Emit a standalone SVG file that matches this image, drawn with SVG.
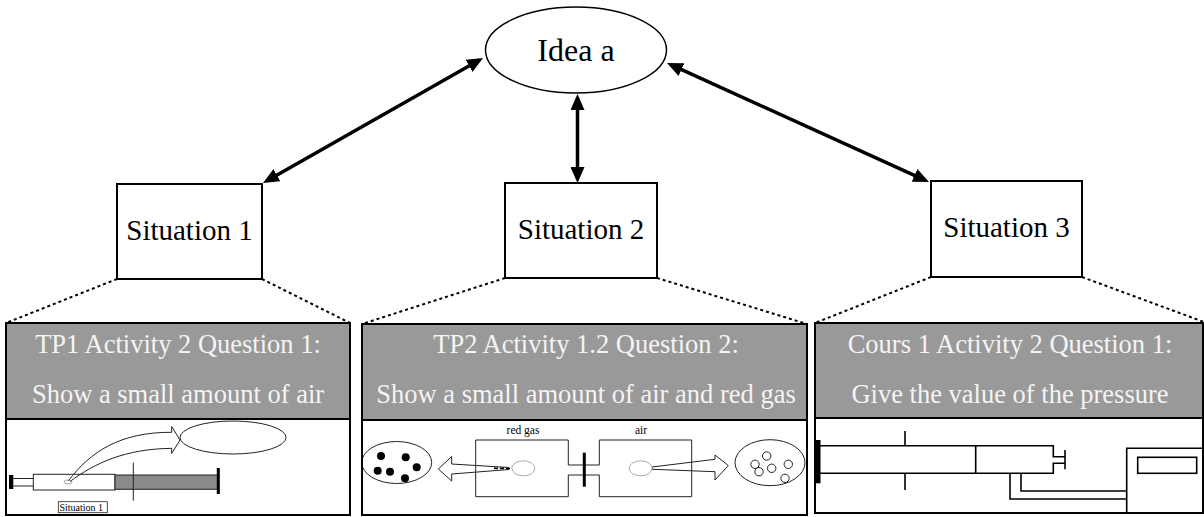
<svg xmlns="http://www.w3.org/2000/svg" width="1204" height="517" viewBox="0 0 1204 517">
<style>
.txt{font-family:"Liberation Serif","Times New Roman",serif;fill:#000}
.lbl{font-size:29px;text-anchor:middle}
.hdr{fill:#999;stroke:none}
.htxt{font-family:"Liberation Serif","Times New Roman",serif;font-size:26.5px;fill:#f4f4f4;text-anchor:middle}
.box{fill:#fff;stroke:#000;stroke-width:2}
.frame{fill:none;stroke:#000;stroke-width:2}
.conn{stroke:#000;stroke-width:3.5;fill:none;marker-start:url(#ah);marker-end:url(#ah)}
.dot{stroke:#000;stroke-width:2;stroke-dasharray:3 3;fill:none}
.thin{fill:none;stroke:#222;stroke-width:1}
.med{fill:none;stroke:#000;stroke-width:1.6}
.gry{fill:none;stroke:#aaa;stroke-width:1}
</style>
<defs>
<marker id="ah" viewBox="0 0 16 14" refX="12" refY="7" markerWidth="16" markerHeight="14" markerUnits="userSpaceOnUse" orient="auto-start-reverse">
<path d="M0,0 L16,7 L0,14 z" fill="#000"/>
</marker>
</defs>

<g id="connectors">
<line class="conn" x1="479.5" y1="60" x2="266.5" y2="181"/>
<line class="conn" x1="577.5" y1="98" x2="577.5" y2="179"/>
<line class="conn" x1="670.6" y1="64.7" x2="925.4" y2="180.3"/>
<line class="dot" x1="117" y1="279" x2="6" y2="323"/>
<line class="dot" x1="262" y1="279" x2="350" y2="323"/>
<line class="dot" x1="505" y1="278" x2="362" y2="324"/>
<line class="dot" x1="657" y1="278" x2="807" y2="324"/>
<line class="dot" x1="931" y1="277" x2="815" y2="323"/>
<line class="dot" x1="1082" y1="277" x2="1204" y2="322"/>
</g>

<g id="idea">
<ellipse cx="576" cy="50" rx="90.5" ry="43" fill="#fff" stroke="#000" stroke-width="1.5"/>
<text class="txt" x="576" y="61" font-size="32" text-anchor="middle">Idea a</text>
</g>

<g id="situation1">
<rect class="box" x="117" y="184" width="145" height="95"/>
<text class="txt lbl" x="189.5" y="240">Situation 1</text>
</g>
<g id="situation2">
<rect class="box" x="505" y="183" width="152" height="95"/>
<text class="txt lbl" x="581" y="239">Situation 2</text>
</g>
<g id="situation3">
<rect class="box" x="931" y="181" width="151" height="96"/>
<text class="txt lbl" x="1006.5" y="237">Situation 3</text>
</g>

<g id="panel1">
<rect class="hdr" x="6" y="323" width="344" height="96"/>
<rect x="6" y="419" width="344" height="96" fill="#fff"/>
<text class="htxt" x="178" y="353">TP1 Activity 2 Question 1:</text>
<text class="htxt" x="178" y="403">Show a small amount of air</text>
<ellipse class="thin" cx="233" cy="437.5" rx="53" ry="16.5"/>
<path class="thin" d="M171.7,432.3 L171.7,426.5 L180,440 L171.7,453.5 L171.7,448.3"/>
<path class="thin" d="M171.7,432.3 C120,432 90,452 68.3,481"/>
<path class="thin" d="M171.7,448.3 C125,449 95,463 70,481.5"/>
<ellipse cx="68" cy="482" rx="4" ry="2" fill="none" stroke="#888" stroke-width="0.8"/>
<rect x="9" y="475" width="4.3" height="14" fill="#000"/>
<path class="thin" d="M13.3,478.5 H33.3 M13.3,486 H33.3"/>
<rect x="33.3" y="474.3" width="81.7" height="15.7" fill="none" stroke="#222" stroke-width="1"/>
<rect x="115" y="475" width="103.3" height="14.3" fill="#8a8a8a" stroke="#222" stroke-width="1"/>
<line class="thin" x1="133.3" y1="462.7" x2="133.3" y2="500.7"/>
<line x1="218.3" y1="468" x2="218.3" y2="494" stroke="#000" stroke-width="3"/>
<rect x="58.3" y="501.7" width="49" height="11" fill="#fff" stroke="#222" stroke-width="0.8"/>
<text class="txt" x="59.5" y="511" font-size="10">Situation 1</text>
<rect class="frame" x="6" y="323" width="344" height="192"/>
<line class="frame" x1="6" y1="419" x2="350" y2="419"/>
</g>

<g id="panel2">
<rect class="hdr" x="362" y="324" width="445" height="96"/>
<rect x="362" y="420" width="445" height="95" fill="#fff"/>
<text class="htxt" x="586" y="353">TP2 Activity 1.2 Question 2:</text>
<text class="htxt" x="586" y="403">Show a small amount of air and red gas</text>
<ellipse class="thin" cx="396.7" cy="462.5" rx="35" ry="21"/>
<g fill="#000">
<circle cx="381" cy="456" r="4"/>
<circle cx="405.7" cy="457.3" r="4"/>
<circle cx="377.7" cy="470.7" r="4"/>
<circle cx="390" cy="471.7" r="4"/>
<circle cx="416.7" cy="467.3" r="4"/>
<circle cx="405" cy="478.3" r="4"/>
</g>
<path class="thin" d="M509,467.5 L451.7,464 L451.7,456.5 L438.3,469 L451.7,481 L451.7,474 L509,469.5"/>
<line x1="494" y1="468.3" x2="511" y2="468.5" stroke="#000" stroke-width="1.6" stroke-dasharray="4 2"/>
<ellipse class="gry" cx="523.3" cy="468.3" rx="11.5" ry="7.5"/>
<path class="thin" d="M568.3,465 V440 H475.7 V496.7 H568.3 V475 M568.3,465 H599.3 M568.3,475 H599.3 M599.3,465 V440 H691.7 V496.7 H599.3 V475"/>
<line x1="584.3" y1="452.7" x2="584.3" y2="486.7" stroke="#000" stroke-width="3"/>
<text class="txt" x="523" y="434" font-size="11.5" text-anchor="middle">red gas</text>
<text class="txt" x="641" y="434" font-size="11.5" text-anchor="middle">air</text>
<ellipse class="gry" cx="640.7" cy="468.3" rx="11.5" ry="7.5"/>
<path class="thin" d="M652,467 L715,459.3 L715,455 L728.3,465.5 L715,480 L715,471.7 L652,469.3"/>
<ellipse class="thin" cx="770" cy="462.7" rx="35" ry="23"/>
<g class="thin">
<circle cx="755" cy="464.3" r="4.2"/>
<circle cx="766.7" cy="456" r="4.2"/>
<circle cx="759" cy="471.7" r="4.2"/>
<circle cx="771.7" cy="468.3" r="4.2"/>
<circle cx="788.3" cy="464.3" r="4.2"/>
<circle cx="785" cy="478.3" r="4.2"/>
</g>
<rect class="frame" x="362" y="324" width="445" height="191"/>
<line class="frame" x1="362" y1="420" x2="807" y2="420"/>
</g>

<g id="panel3">
<rect class="hdr" x="815" y="323" width="388" height="95"/>
<rect x="815" y="418" width="388" height="95" fill="#fff"/>
<text class="htxt" x="1010" y="353">Cours 1 Activity 2 Question 1:</text>
<text class="htxt" x="1010" y="403">Give the value of the pressure</text>
<rect x="816" y="440" width="4.5" height="43.3" fill="#000"/>
<path class="med" d="M820,445.7 H1053.3 V456.7 H1065 M820,473.3 H1053.3 V463.3 H1065 M1065,450 V469.3 M975.7,445.7 V473.3 M905,431 V445.7 M905,473.3 V490"/>
<path class="med" d="M1010,473.3 V499 H1126.7 M1021,473.3 V491 H1126.7"/>
<path class="med" d="M1203,448.3 H1126.7 V513"/>
<rect class="med" x="1137.7" y="457.3" width="59" height="16"/>
<rect class="frame" x="815" y="323" width="388" height="190"/>
<line class="frame" x1="815" y1="418" x2="1203" y2="418"/>
</g>
</svg>
